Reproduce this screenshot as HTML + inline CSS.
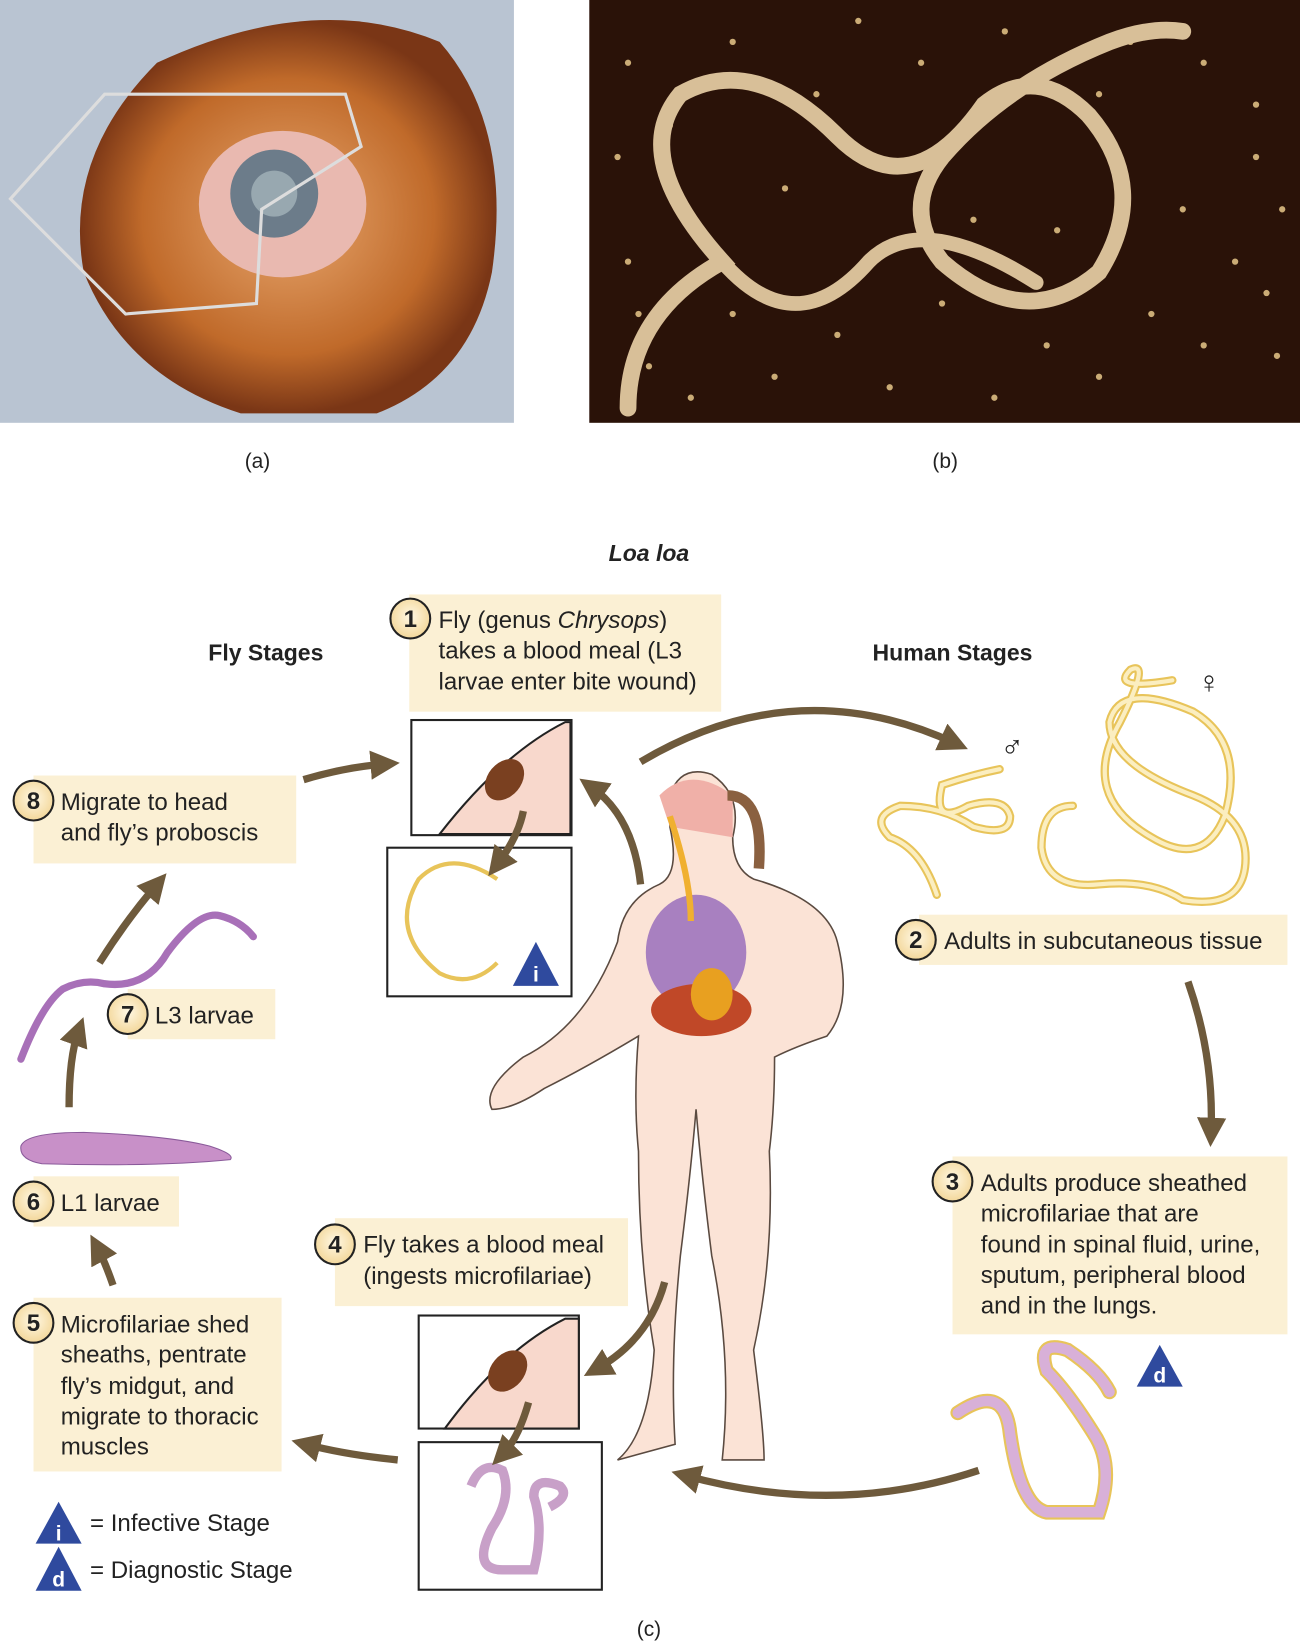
<!DOCTYPE html>
<html><head><meta charset="utf-8"><style>
html,body{margin:0;padding:0;background:#fff;}
svg{display:block;}
text{font-family:"Liberation Sans",Arial,sans-serif;}
</style></head><body>
<svg width="1300" height="1641" viewBox="0 0 1242 1568" preserveAspectRatio="none" xmlns="http://www.w3.org/2000/svg">
<defs>
<radialGradient id="nb" cx="50%" cy="45%" r="55%"><stop offset="0" stop-color="#fff8e4"/><stop offset="1" stop-color="#f3d79a"/></radialGradient>
<radialGradient id="eye" cx="50%" cy="50%" r="50%"><stop offset="0" stop-color="#e8a870"/><stop offset="0.7" stop-color="#c06a2a"/><stop offset="1" stop-color="#7a3616"/></radialGradient>
<marker id="ah" viewBox="0 0 10 10" refX="5" refY="5" markerWidth="4" markerHeight="4" orient="auto"><path d="M0,0 L10,5 L0,10 z" fill="#6e5a3c"/></marker>
</defs>
<rect width="1242" height="1568" fill="#fff"/>
<rect x="0" y="0" width="491" height="404" fill="#b9c4d2"/>
<path d="M150,60 Q300,-10 420,40 Q490,120 470,260 Q450,360 360,395 L230,395 Q120,360 80,260 Q60,150 150,60z" fill="url(#eye)"/>
<ellipse cx="270" cy="195" rx="80" ry="70" fill="#e9b9b0"/>
<circle cx="262" cy="185" r="42" fill="#6c7c8a"/>
<circle cx="262" cy="185" r="22" fill="#98a8b0"/>
<path d="M100,90 L330,90 L345,140 L250,200 L245,290 L120,300 L10,190z" fill="none" stroke="#ddd" stroke-width="3"/>
<rect x="563" y="0" width="679" height="404" fill="#2a1208"/>
<g fill="#e8c88a" opacity="0.85">
<circle cx="600" cy="60" r="3"/><circle cx="640" cy="120" r="3"/><circle cx="700" cy="40" r="3"/><circle cx="780" cy="90" r="3"/><circle cx="880" cy="60" r="3"/><circle cx="960" cy="30" r="3"/><circle cx="1050" cy="90" r="3"/><circle cx="1150" cy="60" r="3"/><circle cx="1200" cy="150" r="3"/><circle cx="1180" cy="250" r="3"/><circle cx="1100" cy="300" r="3"/><circle cx="1000" cy="330" r="3"/><circle cx="900" cy="290" r="3"/><circle cx="800" cy="320" r="3"/><circle cx="700" cy="300" r="3"/><circle cx="600" cy="250" r="3"/><circle cx="620" cy="350" r="3"/><circle cx="1220" cy="340" r="3"/><circle cx="1130" cy="200" r="3"/><circle cx="1080" cy="40" r="3"/>
<circle cx="590" cy="150" r="3"/><circle cx="610" cy="300" r="3"/><circle cx="660" cy="380" r="3"/><circle cx="740" cy="360" r="3"/><circle cx="850" cy="370" r="3"/><circle cx="950" cy="380" r="3"/><circle cx="1050" cy="360" r="3"/><circle cx="1150" cy="330" r="3"/><circle cx="1210" cy="280" r="3"/><circle cx="1225" cy="200" r="3"/><circle cx="1200" cy="100" r="3"/><circle cx="820" cy="20" r="3"/><circle cx="750" cy="180" r="3"/><circle cx="930" cy="210" r="3"/><circle cx="1010" cy="220" r="3"/>
</g>
<path d="M600,390 Q600,300 690,250 Q600,150 650,90 Q720,50 800,130 Q870,200 940,100 Q990,60 1040,110 Q1100,180 1050,260 Q980,320 900,250 Q860,200 900,150 Q960,80 1060,40 Q1100,25 1130,30" fill="none" stroke="#d8bf98" stroke-width="16" stroke-linecap="round"/>
<path d="M690,250 Q760,330 830,250 Q880,200 990,270" fill="none" stroke="#d8bf98" stroke-width="14" stroke-linecap="round"/>
<text x="246" y="447" font-size="20" text-anchor="middle" fill="#222">(a)</text>
<text x="903" y="447" font-size="20" text-anchor="middle" fill="#222">(b)</text>
<text x="620" y="536" font-size="22" font-weight="bold" font-style="italic" text-anchor="middle" fill="#222">Loa loa</text>
<text x="254" y="631" font-size="22" font-weight="bold" text-anchor="middle" fill="#222">Fly Stages</text>
<text x="910" y="631" font-size="22" font-weight="bold" text-anchor="middle" fill="#222">Human Stages</text>
<g fill="#fbf0d4">
<rect x="391" y="568" width="298" height="112"/>
<rect x="32" y="741" width="251" height="84"/>
<rect x="878" y="874" width="352" height="48"/>
<rect x="910" y="1105" width="320" height="170"/>
<rect x="320" y="1164" width="280" height="84"/>
<rect x="32" y="1240" width="237" height="166"/>
<rect x="32" y="1124" width="139" height="48"/>
<rect x="122" y="945" width="141" height="48"/>
</g>
<g font-size="23" fill="#222">
<circle cx="392" cy="591" r="19" fill="url(#nb)" stroke="#222" stroke-width="2"/><text x="392" y="599" text-anchor="middle" font-weight="bold">1</text>
<text x="419" y="600">Fly (genus <tspan font-style="italic">Chrysops</tspan>)</text>
<text x="419" y="629">takes a blood meal (L3</text>
<text x="419" y="659">larvae enter bite wound)</text>
<circle cx="32" cy="765" r="19" fill="url(#nb)" stroke="#222" stroke-width="2"/><text x="32" y="773" text-anchor="middle" font-weight="bold">8</text>
<text x="58" y="774">Migrate to head</text><text x="58" y="803">and fly’s proboscis</text>
<circle cx="875" cy="898" r="19" fill="url(#nb)" stroke="#222" stroke-width="2"/><text x="875" y="906" text-anchor="middle" font-weight="bold">2</text>
<text x="902" y="907">Adults in subcutaneous tissue</text>
<circle cx="910" cy="1129" r="19" fill="url(#nb)" stroke="#222" stroke-width="2"/><text x="910" y="1137" text-anchor="middle" font-weight="bold">3</text>
<text x="937" y="1138">Adults produce sheathed</text><text x="937" y="1167">microfilariae that are</text><text x="937" y="1197">found in spinal fluid, urine,</text><text x="937" y="1226">sputum, peripheral blood</text><text x="937" y="1255">and in the lungs.</text>
<circle cx="320" cy="1189" r="19" fill="url(#nb)" stroke="#222" stroke-width="2"/><text x="320" y="1197" text-anchor="middle" font-weight="bold">4</text>
<text x="347" y="1197">Fly takes a blood meal</text><text x="347" y="1227">(ingests microfilariae)</text>
<circle cx="32" cy="1264" r="19" fill="url(#nb)" stroke="#222" stroke-width="2"/><text x="32" y="1272" text-anchor="middle" font-weight="bold">5</text>
<text x="58" y="1273">Microfilariae shed</text><text x="58" y="1302">sheaths, pentrate</text><text x="58" y="1332">fly’s midgut, and</text><text x="58" y="1361">migrate to thoracic</text><text x="58" y="1390">muscles</text>
<circle cx="32" cy="1148" r="19" fill="url(#nb)" stroke="#222" stroke-width="2"/><text x="32" y="1156" text-anchor="middle" font-weight="bold">6</text>
<text x="58" y="1157">L1 larvae</text>
<circle cx="122" cy="969" r="19" fill="url(#nb)" stroke="#222" stroke-width="2"/><text x="122" y="977" text-anchor="middle" font-weight="bold">7</text>
<text x="148" y="978">L3 larvae</text>
<text x="86" y="1463">= Infective Stage</text>
<text x="86" y="1508">= Diagnostic Stage</text>
</g>
<path d="M56,1435 L34,1475 L78,1475z" fill="#2f4a9e"/><text x="56" y="1472" font-size="20" fill="#fff" text-anchor="middle" font-weight="bold">i</text>
<path d="M56,1478 L34,1520 L78,1520z" fill="#2f4a9e"/><text x="56" y="1516" font-size="20" fill="#fff" text-anchor="middle" font-weight="bold">d</text>
<text x="620" y="1563" font-size="20" text-anchor="middle" fill="#222">(c)</text>
<rect x="393" y="688" width="153" height="110" fill="#fff" stroke="#222" stroke-width="2"/>
<path d="M420,797 Q480,720 540,690 L545,690 L545,797z" fill="#f8d8cc" stroke="#222" stroke-width="2"/>
<ellipse cx="482" cy="745" rx="16" ry="22" fill="#7a4020" transform="rotate(40 482 745)"/>
<rect x="370" y="810" width="176" height="142" fill="#fff" stroke="#222" stroke-width="2"/>
<path d="M475,840 Q430,810 400,840 Q370,890 420,930 Q450,945 475,920" fill="none" stroke="#e8c45a" stroke-width="4"/>
<path d="M512,900 L490,942 L534,942z" fill="#2f4a9e"/><text x="512" y="938" font-size="20" fill="#fff" text-anchor="middle" font-weight="bold">i</text>
<rect x="400" y="1257" width="153" height="108" fill="#fff" stroke="#222" stroke-width="2"/>
<path d="M425,1365 Q480,1290 540,1260 L553,1260 L553,1365z" fill="#f8d8cc" stroke="#222" stroke-width="2"/>
<ellipse cx="485" cy="1310" rx="16" ry="22" fill="#7a4020" transform="rotate(40 485 1310)"/>
<rect x="400" y="1378" width="175" height="141" fill="#fff" stroke="#222" stroke-width="2"/>
<path d="M450,1420 Q460,1395 480,1405 Q490,1430 470,1460 Q450,1500 480,1500 L510,1500 Q520,1460 510,1430 Q510,1410 535,1420 Q545,1430 525,1440" fill="none" stroke="#c8a0c8" stroke-width="9"/>
<g fill="#fbe3d6" stroke="#5a4a40" stroke-width="1.5">
<path d="M640,760 Q650,730 680,740 Q710,760 700,800 Q700,830 720,840 Q790,860 800,900 Q815,960 790,990 Q760,1000 740,1010 Q740,1060 735,1100 Q740,1200 720,1290 Q730,1370 730,1395 L690,1395 Q700,1300 680,1200 Q670,1120 665,1060 Q660,1120 650,1200 Q640,1300 645,1380 L590,1395 Q620,1370 625,1290 Q610,1200 610,1100 Q605,1050 610,990 Q560,1020 520,1040 Q490,1060 470,1060 Q460,1040 500,1010 Q560,980 590,900 Q595,860 630,845 Q650,835 640,790z"/>
</g>
<path d="M630,760 Q660,730 700,760 L700,800 L640,790z" fill="#f0b0a8"/>
<path d="M695,760 Q730,760 725,830" fill="none" stroke="#8a6040" stroke-width="10"/>
<ellipse cx="665" cy="910" rx="48" ry="55" fill="#a880c0"/>
<ellipse cx="670" cy="965" rx="48" ry="25" fill="#c04828"/>
<path d="M640,780 Q660,840 660,880" stroke="#f0b030" stroke-width="6" fill="none"/>
<ellipse cx="680" cy="950" rx="20" ry="25" fill="#e8a020"/>
<path d="M895,855 Q880,810 850,800 Q830,780 860,770 Q900,770 930,790 Q965,800 965,780 Q960,760 925,770 Q890,790 900,750 Q930,740 955,735" fill="none" stroke="#e8c45a" stroke-width="8" stroke-linecap="round"/>
<path d="M895,855 Q880,810 850,800 Q830,780 860,770 Q900,770 930,790 Q965,800 965,780 Q960,760 925,770 Q890,790 900,750 Q930,740 955,735" fill="none" stroke="#fbeec0" stroke-width="4" stroke-linecap="round"/>
<path d="M1025,770 Q995,770 995,810 Q1000,850 1050,845 Q1100,840 1130,860 Q1190,870 1190,820 Q1190,780 1140,760 Q1060,730 1060,690 Q1070,650 1140,680 Q1190,710 1170,780 Q1150,830 1100,800 Q1030,760 1070,690 Q1100,630 1080,640 Q1060,660 1120,650" fill="none" stroke="#e8c45a" stroke-width="8" stroke-linecap="round"/>
<path d="M1025,770 Q995,770 995,810 Q1000,850 1050,845 Q1100,840 1130,860 Q1190,870 1190,820 Q1190,780 1140,760 Q1060,730 1060,690 Q1070,650 1140,680 Q1190,710 1170,780 Q1150,830 1100,800 Q1030,760 1070,690 Q1100,630 1080,640 Q1060,660 1120,650" fill="none" stroke="#fbeec0" stroke-width="4" stroke-linecap="round"/>
<text x="1155" y="662" font-size="30" text-anchor="middle" fill="#222">♀</text>
<text x="967" y="724" font-size="30" text-anchor="middle" fill="#222">♂</text>
<path d="M915,1350 Q960,1320 965,1370 Q975,1440 1000,1445 L1050,1445 Q1065,1400 1045,1370 Q1020,1330 1000,1310 Q990,1280 1020,1290 Q1050,1310 1060,1330" fill="none" stroke="#e8c45a" stroke-width="14" stroke-linecap="round"/>
<path d="M915,1350 Q960,1320 965,1370 Q975,1440 1000,1445 L1050,1445 Q1065,1400 1045,1370 Q1020,1330 1000,1310 Q990,1280 1020,1290 Q1050,1310 1060,1330" fill="none" stroke="#d8b0d8" stroke-width="10" stroke-linecap="round"/>
<path d="M1108,1285 L1086,1325 L1130,1325z" fill="#2f4a9e"/><text x="1108" y="1321" font-size="20" fill="#fff" text-anchor="middle" font-weight="bold">d</text>
<path d="M20,1012 Q40,960 60,945 Q80,935 100,940 Q140,945 160,910 Q190,870 210,875 Q230,880 242,895" fill="none" stroke="#a870b8" stroke-width="7" stroke-linecap="round"/>
<path d="M20,1095 Q25,1082 80,1082 Q160,1085 200,1095 Q225,1103 220,1108 Q150,1115 40,1112 Q18,1108 20,1095z" fill="#c890c8" stroke="#8a5a9a"/>
<g fill="none" stroke="#6e5a3c" stroke-width="7" marker-end="url(#ah)">
<path d="M290,745 Q330,733 368,730"/>
<path d="M95,920 Q120,880 150,845"/>
<path d="M66,1058 Q66,1010 75,985"/>
<path d="M108,1228 Q100,1205 93,1192"/>
<path d="M380,1395 Q330,1390 292,1380"/>
<path d="M612,728 Q760,640 912,710"/>
<path d="M1135,938 Q1160,1010 1157,1082"/>
<path d="M935,1405 Q800,1450 655,1410"/>
<path d="M612,845 Q605,780 565,752"/>
<path d="M635,1225 Q620,1280 570,1308"/>
<path d="M500,775 Q495,800 475,826"/>
<path d="M505,1340 Q495,1375 480,1390"/>
</g>
</svg>
</body></html>
